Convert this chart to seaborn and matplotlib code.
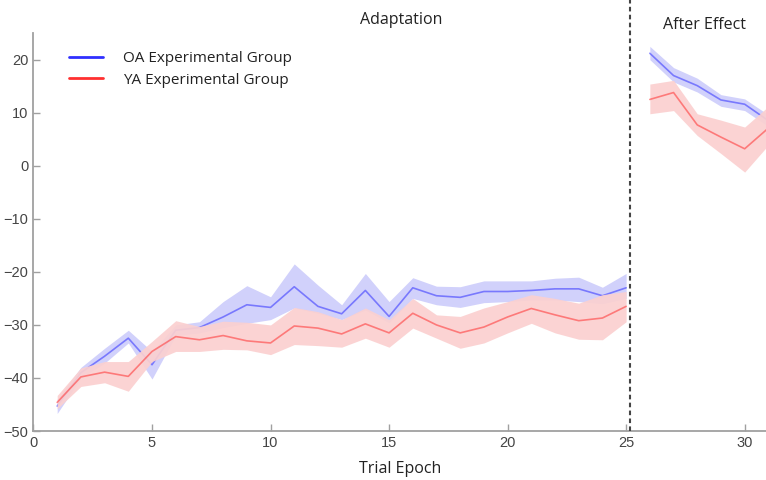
import matplotlib
matplotlib.use("Agg")
import matplotlib.pyplot as plt
from matplotlib.lines import Line2D
import numpy as np
import pandas as pd
import seaborn as sns

# adaptation phase (epochs 1-25)
adapt_epochs = list(range(1, 26))
oa_adapt_mean = [-45.3, -39.0, -35.9, -32.5, -37.5, -31.0, -30.5, -28.5, -26.2, -26.7, -22.8, -26.5, -27.9,
                 -23.5, -28.4, -23.0, -24.5, -24.8, -23.7, -23.7, -23.5, -23.2, -23.2, -24.5, -23.0]
oa_adapt_lower = [-46.7, -40.0, -37.2, -33.4, -40.2, -32.0, -31.5, -30.5, -29.7, -29.0, -26.8, -27.8, -29.0,
                  -27.2, -29.6, -25.0, -26.2, -26.7, -25.8, -25.6, -25.3, -25.3, -25.6, -26.0, -25.0]
oa_adapt_upper = [-44.0, -38.0, -34.4, -31.0, -35.0, -30.0, -29.4, -25.6, -22.6, -24.7, -18.5, -22.5, -26.2,
                  -20.3, -25.6, -21.1, -22.7, -22.8, -21.7, -21.7, -21.7, -21.2, -21.0, -22.9, -20.3]
ya_adapt_mean = [-44.6, -39.8, -38.9, -39.7, -35.0, -32.2, -32.8, -32.0, -33.0, -33.4, -30.2, -30.6, -31.7,
                 -29.8, -31.5, -27.8, -30.0, -31.5, -30.4, -28.5, -26.9, -28.1, -29.2, -28.7, -26.5]
ya_adapt_lower = [-45.8, -41.6, -40.9, -42.5, -36.9, -35.0, -35.0, -34.6, -34.7, -35.6, -33.7, -33.9, -34.2,
                  -32.5, -34.2, -30.6, -32.5, -34.4, -33.4, -31.5, -29.7, -31.5, -32.7, -32.8, -29.4]
ya_adapt_upper = [-43.3, -38.1, -36.9, -36.9, -33.1, -29.2, -30.3, -29.3, -29.5, -30.0, -26.7, -27.5, -29.0,
                  -26.8, -29.0, -25.0, -28.1, -28.4, -26.8, -25.6, -24.3, -25.0, -25.9, -24.3, -23.7]

# after effect phase (epochs 26-31)
after_epochs = list(range(26, 32))
oa_after_mean = [21.2, 17.0, 15.1, 12.4, 11.6, 8.5]
oa_after_lower = [20.0, 15.8, 13.9, 11.2, 10.4, 7.4]
oa_after_upper = [22.5, 18.5, 16.5, 13.4, 12.6, 9.6]
ya_after_mean = [12.5, 13.8, 7.7, 5.4, 3.2, 7.1]
ya_after_lower = [9.8, 10.4, 5.7, 2.3, -1.2, 3.9]
ya_after_upper = [15.4, 16.1, 9.8, 8.6, 7.3, 11.2]

groups = ["OA Experimental Group", "YA Experimental Group"]
line_colors = {"OA Experimental Group": "#3030ff", "YA Experimental Group": "#ff3030"}
band_colors = {"OA Experimental Group": "#cdcdfb", "YA Experimental Group": "#fbd0d0"}

rows = []
for phase, epochs, series in [
    ("Adaptation", adapt_epochs, {
        groups[0]: (oa_adapt_mean, oa_adapt_lower, oa_adapt_upper),
        groups[1]: (ya_adapt_mean, ya_adapt_lower, ya_adapt_upper)}),
    ("After Effect", after_epochs, {
        groups[0]: (oa_after_mean, oa_after_lower, oa_after_upper),
        groups[1]: (ya_after_mean, ya_after_lower, ya_after_upper)}),
]:
    for g, (m, lo, hi) in series.items():
        for e, mv, lv, hv in zip(epochs, m, lo, hi):
            rows.append({"phase": phase, "group": g, "epoch": e, "mean": mv, "lower": lv, "upper": hv})
df = pd.DataFrame(rows)

sns.set_style("white")
plt.rcParams["font.family"] = ["Open Sans", "DejaVu Sans"]

fig = plt.figure(figsize=(7.66, 4.8), dpi=100)
ax = fig.add_axes([0.0437, 0.102, 0.9563, 0.829])

# OA drawn first, YA band covers it where they overlap (as in the reference)
for i, g in enumerate(groups):
    for phase in ["Adaptation", "After Effect"]:
        d = df[(df["group"] == g) & (df["phase"] == phase)]
        ax.fill_between(d["epoch"], d["lower"], d["upper"], color=band_colors[g], alpha=0.92, lw=0,
                        zorder=1 + 2 * i)
        sns.lineplot(data=d, x="epoch", y="mean", color=line_colors[g], alpha=0.55, lw=1.2,
                     ax=ax, legend=False, zorder=2 + 2 * i)

ax.set_xlim(0, 30.9)
ax.set_ylim(-50, 25)
ax.set_xticks([0, 5, 10, 15, 20, 25, 30])
ax.set_yticks([-50, -40, -30, -20, -10, 0, 10, 20])
ax.set_xlabel("Trial Epoch", fontsize=11.5, color="#222222", labelpad=8)
ax.set_ylabel("")

for side in ["top", "right"]:
    ax.spines[side].set_visible(False)
for side in ["left", "bottom"]:
    ax.spines[side].set_color("#a0a0a0")
    ax.spines[side].set_linewidth(1.3)
    ax.spines[side].set_zorder(6)
ax.tick_params(direction="in", length=5, width=1, color="#a0a0a0", labelsize=10.5,
               labelcolor="#444444", left=True, bottom=True)
for lab in ax.get_xticklabels() + ax.get_yticklabels():
    lab.set_family("Liberation Sans")

# phase separator and labels
ax.axvline(25.15, ymin=0, ymax=1.085, color="#444444", ls=(0, (2.2, 1.6)), lw=1.5, clip_on=False,
           zorder=7)
ax.text(15.5, 27.4, "Adaptation", ha="center", va="center", fontsize=11.5, color="#222222", clip_on=False)
ax.text(28.3, 26.6, "After Effect", ha="center", va="center", fontsize=11.5, color="#222222", clip_on=False)

handles = [Line2D([], [], color=line_colors[g], lw=2) for g in groups]
ax.legend(handles, groups, loc="upper left", bbox_to_anchor=(0.03, 0.99), frameon=False,
          fontsize=11, handlelength=2.2, handletextpad=1.3, labelspacing=0.45,
          labelcolor="#222222")

fig.savefig("out.png", dpi=100)
